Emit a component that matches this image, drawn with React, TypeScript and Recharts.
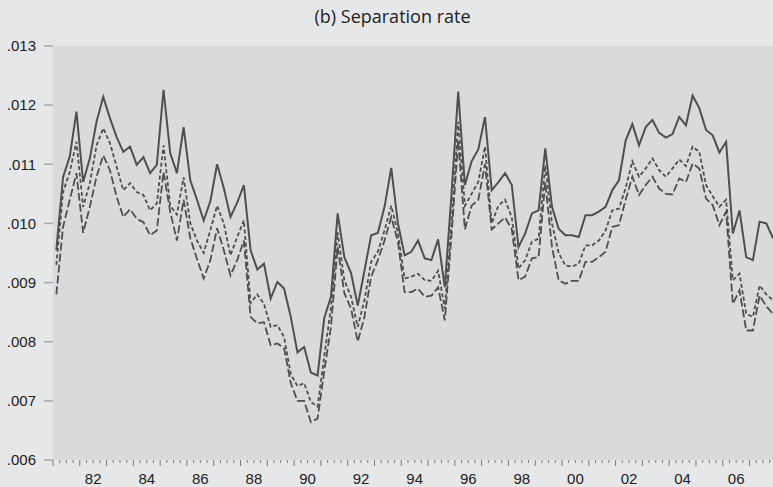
import React from "react";
import { LineChart, Line, XAxis, YAxis, CartesianGrid } from "recharts";

// Quarterly observations 1981Q1 .. 2007Q4 (index 0..107)
const startYear = 1981;

const solidSeries = [
  0.00955, 0.01078, 0.01113, 0.01189, 0.0107, 0.0111, 0.01172, 0.01214, 0.01178, 0.01146,
  0.01121, 0.0113, 0.01099, 0.01112, 0.01085, 0.01099, 0.01226, 0.01119, 0.01085, 0.01163,
  0.01073, 0.0104, 0.01005, 0.01038, 0.011, 0.0106, 0.01011, 0.01035, 0.01065, 0.00955,
  0.00922, 0.00932, 0.00873, 0.00901, 0.0089, 0.00842, 0.00782, 0.00791, 0.00748, 0.00743,
  0.0084, 0.00876, 0.01017, 0.00943, 0.00916, 0.00861, 0.0092, 0.0098, 0.00984, 0.01028,
  0.01094, 0.01, 0.00946, 0.00952, 0.00971, 0.00941, 0.00938, 0.00973, 0.00892, 0.0105,
  0.01223, 0.01065, 0.01105, 0.01125, 0.0118, 0.01056, 0.0107, 0.01085, 0.01065, 0.0096,
  0.00983, 0.01017, 0.01022, 0.01127, 0.01028, 0.00991, 0.0098, 0.0098, 0.00977, 0.01014,
  0.01014, 0.0102, 0.01028, 0.01056, 0.01073, 0.0114, 0.01168, 0.01132, 0.01163, 0.01175,
  0.01153, 0.01145, 0.01151, 0.0118, 0.01166, 0.01216, 0.01195, 0.01158, 0.01149, 0.0112,
  0.01138, 0.00983, 0.01022, 0.00943, 0.00938, 0.01003, 0.01, 0.00975,
];

const shortDashSeries = [
  0.0093, 0.01053, 0.01087, 0.01138, 0.01028, 0.01068, 0.01132, 0.01161, 0.01136, 0.01096,
  0.01056, 0.01068, 0.01053, 0.01048, 0.01022, 0.01034, 0.01132, 0.0103, 0.01015, 0.01078,
  0.01, 0.00971, 0.0095, 0.00989, 0.0103, 0.01, 0.00946, 0.00977, 0.01005, 0.00865,
  0.0088, 0.00864, 0.00825, 0.00828, 0.00808, 0.00745, 0.00725, 0.0073, 0.00698, 0.0069,
  0.00775, 0.00858, 0.00985, 0.00904, 0.00876, 0.00825, 0.0087, 0.00935, 0.00952, 0.00988,
  0.0103, 0.00983, 0.00907, 0.0091, 0.00915, 0.00904, 0.00903, 0.0092, 0.00856, 0.01,
  0.01172, 0.0103, 0.0105, 0.0107, 0.0113, 0.01, 0.0103, 0.0104, 0.0101, 0.00924,
  0.00938, 0.00969, 0.00974, 0.01098, 0.01, 0.0095, 0.00929, 0.00927, 0.00932, 0.00963,
  0.00963, 0.00971, 0.00988, 0.01022, 0.01025, 0.0106, 0.01105, 0.01079, 0.01093, 0.0111,
  0.0109, 0.01079, 0.01093, 0.01108, 0.01097, 0.0113, 0.01121, 0.01065, 0.01046, 0.01028,
  0.0104, 0.00904, 0.00915, 0.00847, 0.00842, 0.00895, 0.0088, 0.0087,
];

const longDashSeries = [
  0.0088, 0.00994, 0.0104, 0.01085, 0.00984, 0.01028, 0.01079, 0.01115, 0.0109, 0.01045,
  0.01011, 0.01024, 0.01008, 0.01002, 0.0098, 0.00988, 0.01087, 0.0102, 0.00971, 0.0104,
  0.00975, 0.0094, 0.00907, 0.00938, 0.00992, 0.00955, 0.00912, 0.00938, 0.00971, 0.00842,
  0.00831, 0.00833, 0.00794, 0.00797, 0.00789, 0.0073, 0.007, 0.007, 0.00664, 0.0067,
  0.0075, 0.00825, 0.0096, 0.00882, 0.00856, 0.008, 0.00842, 0.0091, 0.00938, 0.00971,
  0.01011, 0.00969, 0.00884, 0.00884, 0.0089, 0.00876, 0.00878, 0.00892, 0.00836, 0.0098,
  0.0114, 0.0099, 0.0103, 0.0104, 0.011, 0.0099, 0.01, 0.0101, 0.0099, 0.00904,
  0.0091, 0.00941, 0.00943, 0.0107, 0.0096, 0.00904, 0.00898, 0.00903, 0.00903, 0.00935,
  0.00935, 0.00943, 0.00952, 0.00994, 0.00997, 0.0104, 0.01079, 0.01048, 0.01065, 0.01079,
  0.01059, 0.0105, 0.01049, 0.01076, 0.0107, 0.01101, 0.01093, 0.01042, 0.01031, 0.00997,
  0.0102, 0.00864, 0.00887, 0.00819, 0.00819, 0.00878, 0.0086, 0.00847,
];

const yTicks = [0.006, 0.007, 0.008, 0.009, 0.01, 0.011, 0.012, 0.013];

const quarterLabels: string[] = solidSeries.map(
  (_, i) => `${startYear + Math.floor(i / 4)}Q${(i % 4) + 1}`
);

const data = solidSeries.map((v, i) => ({
  t: i,
  quarter: quarterLabels[i],
  solid: v,
  shortDash: shortDashSeries[i],
  longDash: longDashSeries[i],
}));

// quarter boundaries for tick marks
const xTicks: number[] = [];
for (let q = 0; q < solidSeries.length; q++) xTicks.push(q - 0.5);

const QuarterTick = (props: any) => {
  const { x, y, payload } = props;
  const q = Math.round(payload.value + 0.5);
  const isYear = q % 4 === 0;
  const len = isYear ? 6 : 3;
  const year = startYear + Math.floor(q / 4);
  const showLabel = q % 4 === 2 && year % 2 === 0;
  return (
    <g>
      <line x1={x} x2={x} y1={y} y2={y + len} stroke="#7a7a7a" strokeWidth={1} />
      {showLabel && (
        <text
          x={x}
          y={y + 24}
          textAnchor="middle"
          fontFamily="'Liberation Sans', Arial, sans-serif"
          fontSize={15}
          fill="#222"
        >
          {String(year % 100).padStart(2, "0")}
        </text>
      )}
    </g>
  );
};

const fmtY = (v: number) => v.toFixed(3).replace(/^0/, "");

export default function App() {
  return (
    <div
      style={{
        position: "absolute",
        left: 0,
        top: 0,
        width: 773,
        height: 487,
        background: "#e6e7e9",
        overflow: "hidden",
      }}
    >
      <div
        style={{
          position: "absolute",
          top: 3,
          left: 0,
          width: 785,
          textAlign: "center",
          fontFamily: "'Open Sans', sans-serif",
          fontSize: 18,
          lineHeight: "26px",
          color: "#222",
        }}
      >
        (b) Separation rate
      </div>
      <LineChart
        width={773}
        height={487}
        data={data}
        margin={{ top: 46, right: 0, bottom: 0, left: 0 }}
      >
        <CartesianGrid horizontal={false} vertical={false} fill="#d9dadc" stroke="none" />
        <XAxis
          dataKey="t"
          type="number"
          domain={[-0.5, 107]}
          ticks={xTicks}
          interval={0}
          allowDataOverflow
          height={27}
          tickLine={false}
          axisLine={false}
          tickSize={0}
          tickMargin={0}
          tick={<QuarterTick />}
        />
        <YAxis
          type="number"
          domain={[0.006, 0.013]}
          ticks={yTicks}
          interval={0}
          allowDataOverflow
          width={53}
          axisLine={false}
          tickSize={9}
          tickMargin={8}
          tickLine={{ stroke: "#a8a8a8", strokeWidth: 1.5 }}
          tickFormatter={fmtY}
          tick={{
            fill: "#222",
            fontSize: 15,
            fontFamily: "'Liberation Sans', Arial, sans-serif",
          }}
        />
        <Line
          type="linear"
          dataKey="longDash"
          stroke="#4f4f4f"
          strokeWidth={1.8}
          strokeDasharray="8 3"
          dot={false}
          isAnimationActive={false}
        />
        <Line
          type="linear"
          dataKey="shortDash"
          stroke="#4f4f4f"
          strokeWidth={1.8}
          strokeDasharray="4 2.5"
          dot={false}
          isAnimationActive={false}
        />
        <Line
          type="linear"
          dataKey="solid"
          stroke="#4f4f4f"
          strokeWidth={2}
          dot={false}
          isAnimationActive={false}
        />
      </LineChart>
    </div>
  );
}
